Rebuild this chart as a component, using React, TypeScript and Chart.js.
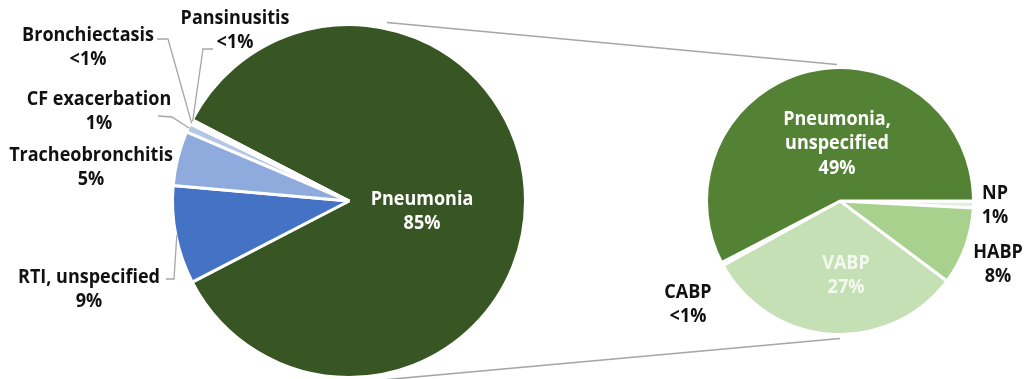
import React, { useEffect, useRef } from "react";
import { Chart, registerables } from "chart.js";

Chart.register(...registerables);

// ---------- DATA ----------
const mainCategories = ["Pneumonia", "RTI, unspecified", "Tracheobronchitis", "CF exacerbation", "Bronchiectasis", "Pansinusitis"];
const mainValues = [84.8, 9, 5, 0.8, 0.2, 0.2];
const mainPctLabels = ["85%", "9%", "5%", "1%", "<1%", "<1%"];

const subCategories = ["NP", "HABP", "VABP", "CABP", "Pneumonia, unspecified"];
const subValues = [0.7, 8, 27, 0.3, 49];
const subPctLabels = ["1%", "8%", "27%", "<1%", "49%"];

// ---------- STYLE / LAYOUT ----------
const mainColors = ["#385623", "#4472C4", "#8FAADC", "#B4C7E7", "#DAE3F3", "#E4EBF7"];
const subColors = ["#E2F0D9", "#A9D18E", "#C5E0B4", "#E2F0D9", "#548235"];

const FONT = 'bold 20px "Open Sans"';
const FONT_XSCALE = 0.9;
const LINE_H = 24.5;
const DARK = "#111111";
const LEADER = "#A6A6A6";

// label name line splits (text) for the sub pie
const subNameLines = [["NP"], ["HABP"], ["VABP"], ["CABP"], ["Pneumonia,", "unspecified"]];

// label positions relative to each pie's centre (dx, dy of first line)
const mainLabelPos = [
  { dx: 73, dy: -2, color: "#FFFFFF" },
  { dx: -260, dy: 76, color: DARK },
  { dx: -258, dy: -46, color: DARK },
  { dx: -250, dy: -102, color: DARK },
  { dx: -261, dy: -166, color: DARK },
  { dx: -114, dy: -183, color: DARK },
];
const subLabelPos = [
  { dx: 155, dy: -8, color: DARK },
  { dx: 158, dy: 51, color: DARK },
  { dx: 6, dy: 62, color: "#F4F9F0" },
  { dx: -152, dy: 91, color: DARK },
  { dx: -3, dy: -82, color: "#FFFFFF" },
];
// leader line points (relative to centre); final point is the slice edge at its mid-angle
const mainLeaders: Record<number, [number, number][]> = {
  1: [[-183, 78], [-175, 78]],
  3: [[-191, -85], [-177, -84]],
  4: [[-192, -162], [-181, -162]],
  5: [[-136, -152], [-146, -152]],
};

// connector geometry (angles in degrees, radial extra in px)
const connectors = [
  { leftAngle: -78, leftExtra: 6, rightAngle: -91.3, rightExtra: 3 },
  { leftAngle: 78, leftExtra: 6, rightAngle: 90, rightExtra: 4 },
];

const mainShare = mainValues[0] / mainValues.reduce((a, b) => a + b, 0);
const mainRotation = 90 - (mainShare * 360) / 2;

function labelPlugin(id: string, lines: string[][], pos: { dx: number; dy: number; color: string }[], leaders: Record<number, [number, number][]>) {
  return {
    id,
    afterDatasetsDraw(chart: any) {
      const ctx: CanvasRenderingContext2D = chart.ctx;
      const arcs = chart.getDatasetMeta(0).data;
      ctx.save();
      // leaders
      ctx.strokeStyle = LEADER;
      ctx.lineWidth = 1.3;
      Object.keys(leaders).forEach((k) => {
        const i = Number(k);
        const el = arcs[i];
        const p = el.getProps(["x", "y", "startAngle", "endAngle", "outerRadius"], true);
        const mid = (p.startAngle + p.endAngle) / 2;
        ctx.beginPath();
        leaders[i].forEach(([dx, dy], j) => {
          if (j === 0) ctx.moveTo(p.x + dx, p.y + dy);
          else ctx.lineTo(p.x + dx, p.y + dy);
        });
        ctx.lineTo(p.x + Math.cos(mid) * (p.outerRadius - 1), p.y + Math.sin(mid) * (p.outerRadius - 1));
        ctx.stroke();
      });
      // text
      ctx.font = FONT;
      ctx.textAlign = "center";
      ctx.textBaseline = "middle";
      arcs.forEach((el: any, i: number) => {
        const p = el.getProps(["x", "y"], true);
        const o = pos[i];
        ctx.fillStyle = o.color;
        lines[i].forEach((t, j) => {
          ctx.save();
          ctx.translate(p.x + o.dx, p.y + o.dy + j * LINE_H);
          ctx.scale(FONT_XSCALE, 1);
          ctx.fillText(t, 0, 0);
          ctx.restore();
        });
      });
      ctx.restore();
    },
  };
}

export default function App() {
  const leftRef = useRef<HTMLCanvasElement>(null);
  const rightRef = useRef<HTMLCanvasElement>(null);

  useEffect(() => {
    const mainLines = mainCategories.map((c, i) => [c, mainPctLabels[i]]);
    const subLines = subNameLines.map((l, i) => [...l, subPctLabels[i]]);

    const left = new Chart(leftRef.current!, {
      type: "pie",
      data: {
        labels: mainCategories,
        datasets: [
          {
            data: mainValues,
            backgroundColor: mainColors,
            borderColor: "#FFFFFF",
            borderWidth: 3,
            radius: 176.5,
            rotation: mainRotation,
          } as any,
        ],
      },
      options: {
        responsive: false,
        animation: false,
        events: [],
        layout: { padding: { left: 0, right: 329, top: 23, bottom: 0 } },
        plugins: { legend: { display: false }, tooltip: { enabled: false } },
      } as any,
      plugins: [labelPlugin("mainLabels", mainLines, mainLabelPos, mainLeaders)],
    });

    const connectorPlugin = {
      id: "connectors",
      beforeDatasetsDraw(chart: any) {
        const lp = left.getDatasetMeta(0).data[0] as any;
        const rp = chart.getDatasetMeta(0).data[0] as any;
        if (!lp || !rp) return;
        const L = lp.getProps(["x", "y", "outerRadius"], true);
        const R = rp.getProps(["x", "y", "outerRadius"], true);
        const ctx: CanvasRenderingContext2D = chart.ctx;
        ctx.save();
        ctx.strokeStyle = LEADER;
        ctx.lineWidth = 1.6;
        connectors.forEach((c) => {
          const la = (c.leftAngle * Math.PI) / 180;
          const ra = (c.rightAngle * Math.PI) / 180;
          ctx.beginPath();
          ctx.moveTo(L.x + Math.cos(la) * (L.outerRadius + c.leftExtra), L.y + Math.sin(la) * (L.outerRadius + c.leftExtra));
          ctx.lineTo(R.x + Math.cos(ra) * (R.outerRadius + c.rightExtra), R.y + Math.sin(ra) * (R.outerRadius + c.rightExtra));
          ctx.stroke();
        });
        ctx.restore();
      },
    };

    const right = new Chart(rightRef.current!, {
      type: "pie",
      data: {
        labels: subCategories,
        datasets: [
          {
            data: subValues,
            backgroundColor: subColors,
            borderColor: "#FFFFFF",
            borderWidth: 3,
            radius: 133.5,
            rotation: 90,
          } as any,
        ],
      },
      options: {
        responsive: false,
        animation: false,
        events: [],
        layout: { padding: { left: 680, right: 27, top: 41, bottom: 18 } },
        plugins: { legend: { display: false }, tooltip: { enabled: false } },
      } as any,
      plugins: [connectorPlugin, labelPlugin("subLabels", subLines, subLabelPos, {})],
    });

    return () => {
      right.destroy();
      left.destroy();
    };
  }, []);

  const canvasStyle: React.CSSProperties = { position: "absolute", left: 0, top: 0, width: 1027, height: 379 };
  return (
    <div style={{ position: "absolute", left: 0, top: 0, width: 1027, height: 379, background: "#FFFFFF" }}>
      <canvas ref={leftRef} width={1027} height={379} style={canvasStyle} />
      <canvas ref={rightRef} width={1027} height={379} style={canvasStyle} />
    </div>
  );
}
